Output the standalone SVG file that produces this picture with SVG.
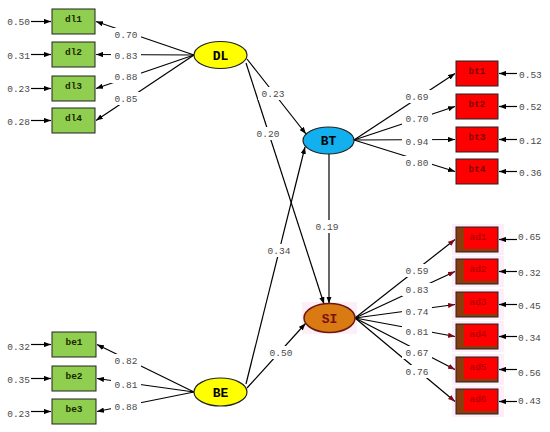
<svg xmlns="http://www.w3.org/2000/svg" width="550" height="432" viewBox="0 0 550 432">
<defs>
<marker id="a" viewBox="0 0 8 6" refX="8" refY="3" markerWidth="7" markerHeight="5.5" orient="auto" markerUnits="userSpaceOnUse"><path d="M0,0 L8,3 L0,6 z" fill="#000"/></marker>
<marker id="ar" viewBox="0 0 8 6" refX="8" refY="3" markerWidth="7" markerHeight="5.5" orient="auto" markerUnits="userSpaceOnUse"><path d="M0,0 L8,3 L0,6 z" fill="#7a0a1a"/></marker>
</defs>
<style>
.ln{stroke:#000;stroke-width:1.2;fill:none}
.ar{marker-end:url(#a)}
.arr{marker-end:url(#ar)}
.num{font-family:"Liberation Mono","DejaVu Sans Mono",monospace;font-size:9.5px;fill:#4a4a4a}
.lb{fill:#fff}
.g{fill:#8fce4f;stroke:#222;stroke-width:1}
.r{fill:#ff0000;stroke:#222;stroke-width:1}
.gt{font-family:"Liberation Mono","DejaVu Sans Mono",monospace;font-size:9.5px;font-weight:bold;fill:#1a2a00;text-anchor:middle}
.rt{font-family:"Liberation Mono","DejaVu Sans Mono",monospace;font-size:9.5px;font-weight:bold;fill:#800000;text-anchor:middle}
.at{font-family:"Liberation Mono","DejaVu Sans Mono",monospace;font-size:9.5px;fill:#a00000;text-anchor:middle}
.lt{font-family:"Liberation Mono","DejaVu Sans Mono",monospace;font-size:13px;font-weight:bold;fill:#000;text-anchor:middle}
.halo{fill:#fdeefa}
.m{text-anchor:middle}
.e{text-anchor:end}
</style>
<rect width="550" height="432" fill="#fff"/>
<g id="glow">
<rect class="halo" x="452" y="224" width="52" height="31"/>
<rect class="halo" x="452" y="256" width="52" height="31"/>
<rect class="halo" x="452" y="289" width="52" height="31"/>
<rect class="halo" x="452" y="321" width="52" height="31"/>
<rect class="halo" x="452" y="354" width="52" height="31"/>
<rect class="halo" x="452" y="386" width="52" height="31"/>
<rect class="halo" x="302" y="302" width="55" height="32"/>
</g>
<g id="connectors">
<line class="ln ar" x1="194" y1="55" x2="96" y2="21.5"/>
<line class="ln ar" x1="194" y1="55" x2="96" y2="54.5"/>
<line class="ln ar" x1="194" y1="55" x2="96" y2="88.5"/>
<line class="ln ar" x1="194" y1="55" x2="96" y2="120.5"/>
<line class="ln ar" x1="194" y1="392" x2="97" y2="344.5"/>
<line class="ln ar" x1="194" y1="392" x2="97" y2="378.5"/>
<line class="ln ar" x1="194" y1="392" x2="97" y2="411.5"/>
<line class="ln ar" x1="354" y1="140" x2="455" y2="73.5"/>
<line class="ln ar" x1="354" y1="140" x2="455" y2="106.5"/>
<line class="ln ar" x1="354" y1="140" x2="455" y2="139.5"/>
<line class="ln ar" x1="354" y1="140" x2="455" y2="171.5"/>
<line class="ln arr" x1="355" y1="318" x2="455" y2="239.5"/>
<line class="ln arr" x1="355" y1="318" x2="455" y2="271.5"/>
<line class="ln arr" x1="355" y1="318" x2="455" y2="304.5"/>
<line class="ln arr" x1="355" y1="318" x2="455" y2="336.5"/>
<line class="ln arr" x1="355" y1="318" x2="455" y2="369.5"/>
<line class="ln arr" x1="355" y1="318" x2="455" y2="401.5"/>
<line class="ln ar" x1="247" y1="59" x2="306" y2="134"/>
<line class="ln ar" x1="246" y1="63" x2="324" y2="304"/>
<line class="ln ar" x1="329" y1="154" x2="329" y2="303.5"/>
<line class="ln ar" x1="246" y1="384" x2="305" y2="147"/>
<line class="ln ar" x1="247" y1="388" x2="305.5" y2="323.5"/>
<line class="ln ar" x1="31" y1="21.5" x2="51" y2="21.5"/>
<line class="ln ar" x1="31" y1="54.5" x2="51" y2="54.5"/>
<line class="ln ar" x1="31" y1="88.5" x2="51" y2="88.5"/>
<line class="ln ar" x1="31" y1="120.5" x2="51" y2="120.5"/>
<line class="ln ar" x1="31" y1="344.5" x2="51" y2="344.5"/>
<line class="ln ar" x1="31" y1="378.5" x2="51" y2="378.5"/>
<line class="ln ar" x1="31" y1="411.5" x2="51" y2="411.5"/>
<line class="ln ar" x1="517" y1="73.5" x2="499" y2="73.5"/>
<line class="ln ar" x1="517" y1="106.5" x2="499" y2="106.5"/>
<line class="ln ar" x1="517" y1="139.5" x2="499" y2="139.5"/>
<line class="ln ar" x1="517" y1="171.5" x2="499" y2="171.5"/>
<line class="ln ar" x1="517" y1="239.5" x2="499" y2="239.5"/>
<line class="ln ar" x1="517" y1="271.5" x2="499" y2="271.5"/>
<line class="ln ar" x1="517" y1="304.5" x2="499" y2="304.5"/>
<line class="ln ar" x1="517" y1="336.5" x2="499" y2="336.5"/>
<line class="ln ar" x1="517" y1="369.5" x2="499" y2="369.5"/>
<line class="ln ar" x1="517" y1="401.5" x2="499" y2="401.5"/>
</g>
<g id="labels">
<rect class="lb" x="111" y="28" width="30" height="13"/><text class="num m" x="126" y="37.5">0.70</text>
<rect class="lb" x="111" y="49" width="30" height="13"/><text class="num m" x="126" y="58.5">0.83</text>
<rect class="lb" x="111" y="70" width="30" height="13"/><text class="num m" x="126" y="79.5">0.88</text>
<rect class="lb" x="111" y="92" width="30" height="13"/><text class="num m" x="126" y="101.5">0.85</text>
<rect class="lb" x="111" y="354" width="30" height="13"/><text class="num m" x="126" y="363.5">0.82</text>
<rect class="lb" x="111" y="378" width="30" height="13"/><text class="num m" x="126" y="387.5">0.81</text>
<rect class="lb" x="111" y="400" width="30" height="13"/><text class="num m" x="126" y="409.5">0.88</text>
<rect class="lb" x="402" y="90" width="30" height="13"/><text class="num m" x="417" y="99.5">0.69</text>
<rect class="lb" x="402" y="112" width="30" height="13"/><text class="num m" x="417" y="121.5">0.70</text>
<rect class="lb" x="402" y="135" width="30" height="13"/><text class="num m" x="417" y="144.5">0.94</text>
<rect class="lb" x="402" y="156" width="30" height="13"/><text class="num m" x="417" y="165.5">0.80</text>
<rect class="lb" x="402" y="264" width="30" height="13"/><text class="num m" x="417" y="273.5">0.59</text>
<rect class="lb" x="402" y="283" width="30" height="13"/><text class="num m" x="417" y="292.5">0.83</text>
<rect class="lb" x="402" y="305" width="30" height="13"/><text class="num m" x="417" y="314.5">0.74</text>
<rect class="lb" x="402" y="325" width="30" height="13"/><text class="num m" x="417" y="334.5">0.81</text>
<rect class="lb" x="402" y="346" width="30" height="13"/><text class="num m" x="417" y="355.5">0.67</text>
<rect class="lb" x="402" y="365" width="30" height="13"/><text class="num m" x="417" y="374.5">0.76</text>
<rect class="lb" x="258" y="87" width="30" height="13"/><text class="num m" x="273" y="96.5">0.23</text>
<rect class="lb" x="253" y="127" width="30" height="13"/><text class="num m" x="268" y="136.5">0.20</text>
<rect class="lb" x="312" y="220" width="30" height="13"/><text class="num m" x="327" y="229.5">0.19</text>
<rect class="lb" x="264" y="244" width="30" height="13"/><text class="num m" x="279" y="253.5">0.34</text>
<rect class="lb" x="266" y="346" width="30" height="13"/><text class="num m" x="281" y="355.5">0.50</text>
<text class="num e" x="30" y="25">0.50</text>
<text class="num e" x="30" y="59">0.31</text>
<text class="num e" x="30" y="92">0.23</text>
<text class="num e" x="30" y="125">0.28</text>
<text class="num e" x="30" y="350">0.32</text>
<text class="num e" x="30" y="383">0.35</text>
<text class="num e" x="30" y="417">0.23</text>
<text class="num" x="519" y="78">0.53</text>
<text class="num" x="519" y="110">0.52</text>
<text class="num" x="519" y="144">0.12</text>
<text class="num" x="519" y="176">0.36</text>
<text class="num" x="518" y="240">0.65</text>
<text class="num" x="518" y="276">0.32</text>
<text class="num" x="518" y="309">0.45</text>
<text class="num" x="518" y="341">0.34</text>
<text class="num" x="518" y="376">0.56</text>
<text class="num" x="518" y="404">0.43</text>
</g>
<g id="dl1"><rect class="g" x="52" y="9" width="43" height="25"/><text class="gt" x="73.5" y="22">dl1</text></g>
<g id="dl2"><rect class="g" x="52" y="42" width="43" height="25"/><text class="gt" x="73.5" y="55">dl2</text></g>
<g id="dl3"><rect class="g" x="52" y="76" width="43" height="25"/><text class="gt" x="73.5" y="89">dl3</text></g>
<g id="dl4"><rect class="g" x="52" y="108" width="43" height="25"/><text class="gt" x="73.5" y="121">dl4</text></g>
<g id="be1"><rect class="g" x="52" y="332" width="44" height="25"/><text class="gt" x="74" y="345">be1</text></g>
<g id="be2"><rect class="g" x="52" y="366" width="44" height="25"/><text class="gt" x="74" y="379">be2</text></g>
<g id="be3"><rect class="g" x="52" y="399" width="44" height="25"/><text class="gt" x="74" y="412">be3</text></g>
<g id="bt1"><rect class="r" x="456" y="61" width="42" height="25"/><text class="rt" x="477" y="74">bt1</text></g>
<g id="bt2"><rect class="r" x="456" y="94" width="42" height="25"/><text class="rt" x="477" y="107">bt2</text></g>
<g id="bt3"><rect class="r" x="456" y="127" width="42" height="25"/><text class="rt" x="477" y="140">bt3</text></g>
<g id="bt4"><rect class="r" x="456" y="159" width="42" height="25"/><text class="rt" x="477" y="172">bt4</text></g>
<g id="ad1"><rect x="456" y="227" width="42" height="25" fill="#8a3c0c"/><rect x="464" y="227" width="34" height="22" fill="#ff0000"/><rect x="456" y="227" width="42" height="25" fill="none" stroke="#222"/><text class="at" x="478" y="240">ad1</text></g>
<g id="ad2"><rect x="456" y="259" width="42" height="25" fill="#8a3c0c"/><rect x="464" y="259" width="34" height="22" fill="#ff0000"/><rect x="456" y="259" width="42" height="25" fill="none" stroke="#222"/><text class="at" x="478" y="272">ad2</text></g>
<g id="ad3"><rect x="456" y="292" width="42" height="25" fill="#8a3c0c"/><rect x="464" y="292" width="34" height="22" fill="#ff0000"/><rect x="456" y="292" width="42" height="25" fill="none" stroke="#222"/><text class="at" x="478" y="305">ad3</text></g>
<g id="ad4"><rect x="456" y="324" width="42" height="25" fill="#8a3c0c"/><rect x="464" y="324" width="34" height="22" fill="#ff0000"/><rect x="456" y="324" width="42" height="25" fill="none" stroke="#222"/><text class="at" x="478" y="337">ad4</text></g>
<g id="ad5"><rect x="456" y="357" width="42" height="25" fill="#8a3c0c"/><rect x="464" y="357" width="34" height="22" fill="#ff0000"/><rect x="456" y="357" width="42" height="25" fill="none" stroke="#222"/><text class="at" x="478" y="370">ad5</text></g>
<g id="ad6"><rect x="456" y="389" width="42" height="25" fill="#8a3c0c"/><rect x="464" y="389" width="34" height="22" fill="#ff0000"/><rect x="456" y="389" width="42" height="25" fill="none" stroke="#222"/><text class="at" x="478" y="402">ad6</text></g>
<g id="DL"><ellipse cx="220.5" cy="55" rx="26.5" ry="13.5" fill="#ffff00" stroke="#222" stroke-width="1.2"/><text class="lt" x="220.5" y="59.5">DL</text></g>
<g id="BE"><ellipse cx="220.5" cy="392" rx="26.5" ry="14" fill="#ffff00" stroke="#222" stroke-width="1.2"/><text class="lt" x="220.5" y="396.5">BE</text></g>
<g id="BT"><ellipse cx="328.5" cy="140.5" rx="25.5" ry="13.5" fill="#12b0ee" stroke="#222" stroke-width="1.2"/><text class="lt" x="328.5" y="145">BT</text></g>
<g id="SI"><ellipse cx="329.5" cy="318" rx="25.5" ry="14.5" fill="#d97a12" stroke="#6a1a10" stroke-width="1.5"/><text class="lt" x="329.5" y="322.5" style="fill:#7a1010">SI</text></g>
</svg>
